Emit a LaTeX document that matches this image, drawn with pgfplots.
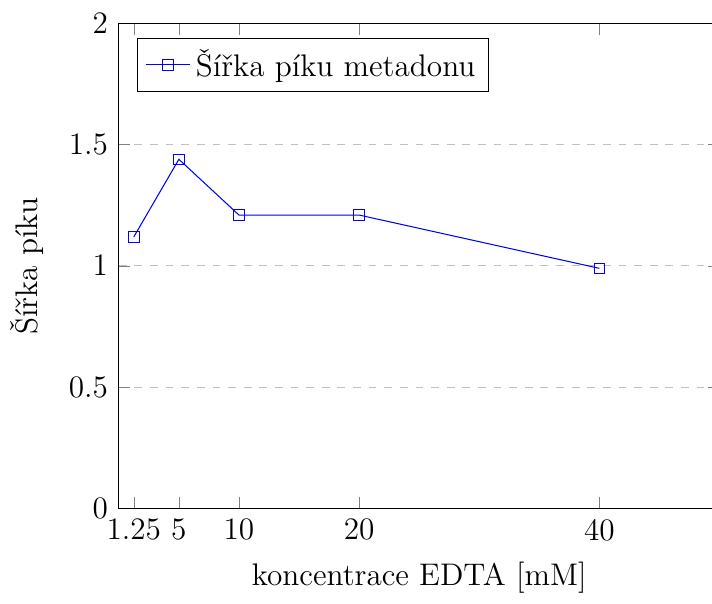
\documentclass[12pt,border={0pt 0pt -3.1pt 1.2pt}]{standalone}
\usepackage{pgfplots}
\pgfplotsset{compat=1.18}
\begin{document}
\begin{tikzpicture}
\begin{axis}[
    scale only axis,
    width=230.8pt, height=186.2pt,
    xmin=0, xmax=50,
    ymin=0, ymax=2,
    xtick={1.25,5,10,20,40},
    xticklabels={1.25,5,10,20,40},
    ytick={0,0.5,1,1.5,2},
    ymajorgrids,
    grid style={dashed, gray!50},
    xlabel={koncentrace EDTA [mM]},
    ylabel={Šířka píku},
    every axis y label/.append style={at={(ticklabel cs:0.5,1.5pt)}},
    legend pos=north west,
    legend cell align=left,
]
\addplot[blue, mark=square] coordinates {
    (1.25,1.12) (5,1.44) (10,1.21) (20,1.21) (40,0.99)
};
\addlegendentry{Šířka píku metadonu}
\end{axis}
\end{tikzpicture}
\end{document}
